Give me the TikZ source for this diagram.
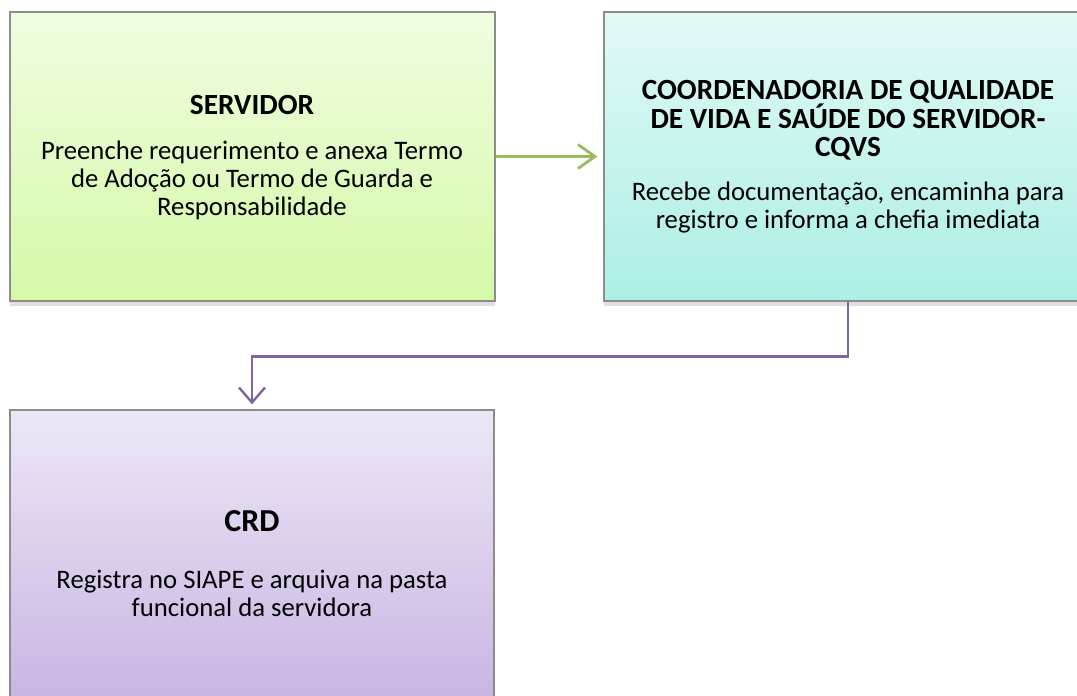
\documentclass[tikz,border=0pt]{standalone}
\usepackage{fontspec}
\setmainfont{Carlito}
\usetikzlibrary{arrows.meta,shadows}

\definecolor{greenTop}{RGB}{239,253,224}
\definecolor{greenBot}{RGB}{213,248,167}
\definecolor{cyanTop}{RGB}{225,249,246}
\definecolor{cyanBot}{RGB}{172,239,228}
\definecolor{lilacTop}{RGB}{237,231,246}
\definecolor{lilacBot}{RGB}{200,181,227}
\definecolor{edgeGreen}{RGB}{155,187,89}
\definecolor{edgePurple}{RGB}{128,100,162}
\definecolor{boxBorder}{RGB}{140,140,140}

\begin{document}
\begin{tikzpicture}[x=1pt,y=-1pt]
\tikzstyle{boxStyle}=[draw=boxBorder, line width=1.3pt, minimum height=289pt, inner sep=0pt,
  drop shadow={shadow xshift=0pt, shadow yshift=-5pt, opacity=0.25}]
\tikzstyle{greenBox}=[boxStyle, minimum width=485pt, top color=greenTop, bottom color=greenBot]
\tikzstyle{cyanBox}=[boxStyle, minimum width=488pt, top color=cyanTop, bottom color=cyanBot]
\tikzstyle{lilacBox}=[boxStyle, minimum width=484pt, top color=lilacTop, bottom color=lilacBot]
\tikzstyle{titleStyle}=[align=center, inner sep=0pt, anchor=base, font=\fontsize{29.3}{28.7}\selectfont\bfseries]
\tikzstyle{textStyle}=[align=center, inner sep=0pt, anchor=base, font=\fontsize{26.7}{27.8}\selectfont]
\tikzstyle{greenArrow}=[draw=edgeGreen, line width=2.8pt, -{Straight Barb[length=17pt,width=24pt]}]
\tikzstyle{purpleArrow}=[draw=edgePurple, line width=2.4pt, -{Straight Barb[length=15pt,width=26pt]}]
\clip (0,0) rectangle (1077,696);
% boxes
\node[greenBox] (servidor) at (252.5,156.5) {};
\node[cyanBox] (cqvs) at (848,156.5) {};
\node[lilacBox] (crd) at (252,554.5) {};
% texts (anchored on the baseline of their last line)
\node[titleStyle] (servidorTitle) at (252,114) {SERVIDOR};
\node[textStyle] (servidorText) at (252,215) {Preenche requerimento e anexa Termo\\de Adoção ou Termo de Guarda e\\Responsabilidade};
\node[titleStyle] (cqvsTitle) at (848,156.7) {COORDENADORIA DE QUALIDADE\\DE VIDA E SAÚDE DO SERVIDOR-\\CQVS};
\node[textStyle] (cqvsText) at (848,228.3) {Recebe documentação, encaminha para\\registro e informa a chefia imediata};
\node[titleStyle, font=\fontsize{32}{32}\selectfont\bfseries] (crdTitle) at (252,531.7) {CRD};
\node[textStyle] (crdText) at (252,616.7) {Registra no SIAPE e arquiva na pasta\\funcional da servidora};
% connectors
\draw[greenArrow, shorten >=6pt] (servidor.east) -- (cqvs.west);
\draw[purpleArrow, shorten >=5pt] (cqvs.south) -- ++(0,55) -| (crd.north);
\end{tikzpicture}
\end{document}
